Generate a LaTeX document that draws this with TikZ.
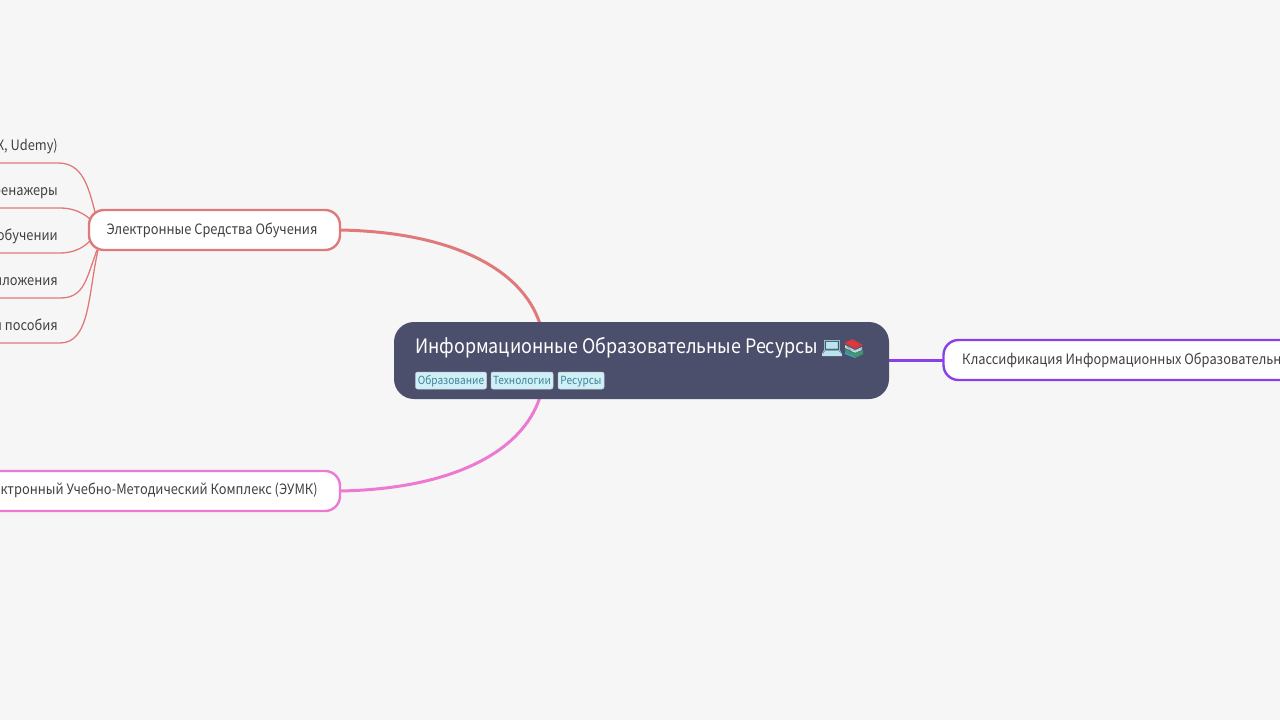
\documentclass[tikz,border=0pt]{standalone}
\usepackage{fontspec}
\setmainfont[FakeStretch=0.9]{Noto Sans CJK SC}
\newfontfamily\emojifont{Noto Emoji}
\definecolor{bgc}{HTML}{F6F6F6}
\definecolor{rootc}{HTML}{4C4F6B}
\definecolor{redc}{HTML}{E07A7A}
\definecolor{pinkc}{HTML}{EC79D2}
\definecolor{purpc}{HTML}{8B3FE8}
\definecolor{tagc}{HTML}{CFF0F7}
\definecolor{tagt}{HTML}{3F8295}
\definecolor{txtc}{HTML}{404040}
\definecolor{lapscr}{HTML}{37606E}
\definecolor{lapbase}{HTML}{BFE3EE}
\definecolor{bkred}{HTML}{E0383C}
\definecolor{bkteal}{HTML}{3E9FC0}
\definecolor{bkgreen}{HTML}{3FA070}
\tikzset{
  x=1pt,y=-1pt,
  topicbox/.style={draw,line width=2.4pt,fill=white,rounded corners=15pt},
  toptext/.style={text=txtc,inner sep=0pt,font=\fontsize{14.25}{17}\selectfont},
  leaftext/.style={text=txtc,inner sep=0pt,anchor=base east,font=\fontsize{14.25}{17}\selectfont},
  tagbox/.style={draw=white!70!rootc,fill=tagc,text=tagt,rounded corners=2pt,inner sep=0pt,line width=.5pt,anchor=base,text height=12.5pt,text depth=4.5pt,font=\fontsize{11.2}{14}\selectfont},
  redl/.style={draw=redc,line width=1.3pt},
  bigl/.style={line width=3pt},
}
\begin{document}
\begin{tikzpicture}
\useasboundingbox (0,0) rectangle (1280,720);
\fill[bgc] (0,0) rectangle (1280,720);
% coordinates
\coordinate (rootT) at (540,324);
\coordinate (rootB) at (540,397);
\coordinate (rootR) at (889,360);
% main connectors
\coordinate (ceR) at (340,230);
\coordinate (euR) at (340,491);
\coordinate (klL) at (943,360);
\draw[bigl,draw=redc] (ceR) .. controls (450,232) and (522,268) .. (rootT);
\draw[bigl,draw=pinkc] (euR) .. controls (450,489) and (522,453) .. (rootB);
\draw[bigl,draw=purpc] (rootR) -- (klL);
% leaf connectors
\coordinate (f1) at (0,163);\coordinate (f2) at (0,208);\coordinate (f3) at (0,253);\coordinate (f4) at (0,298);\coordinate (f5) at (0,343);
\coordinate (j1) at (95,212);\coordinate (j2) at (90,219);\coordinate (j3) at (90,241);\coordinate (j4) at (97,250);\coordinate (j5) at (98,250);
\draw[redl] (f1) -- (58,163) .. controls (82,163) and (88,185) .. (j1);
\draw[redl] (f2) -- (60,208) .. controls (72,208) and (82,212) .. (j2);
\draw[redl] (f3) -- (60,253) .. controls (72,253) and (82,249) .. (j3);
\draw[redl] (f4) -- (60,298) .. controls (84,298) and (86,280) .. (j4);
\draw[redl] (f5) -- (60,343) .. controls (90,343) and (88,295) .. (j5);
% nodes
\draw[topicbox,draw=redc] (89,210) rectangle (340,250);
\node[toptext,anchor=base] (ce) at (212,234) {Электронные Средства Обучения};
\draw[topicbox,draw=pinkc] (-30,471) rectangle (340,511);
\node[toptext,anchor=base east] (eu) at (318,494) {ектронный Учебно-Методический Комплекс (ЭУМК)};
\draw[topicbox,draw=purpc] (943.5,340) rectangle (1320,380);
\node[toptext,anchor=base west] (kl) at (962,364) {Классификация Информационных Образовательн};
\node[leaftext] (a) at (58,150) {X, Udemy)};
\node[leaftext] (b) at (58,195) {ренажеры};
\node[leaftext] (c) at (58,240) {обучении};
\node[leaftext] (d) at (58,285) {иложения};
\node[leaftext] (e) at (58,330) {и пособия};
% root
\fill[rootc,rounded corners=20pt] (394,322) rectangle (889,399);
\node[inner sep=0pt,anchor=base west,text=white,font=\fontsize{19.9}{24}\selectfont] (root) at (415,353) {Информационные Образовательные Ресурсы};
% emoji: colour under-layer, real glyphs on top
\fill[lapscr] (825,340) rectangle (839,351);
\fill[lapbase] (825,351) -- (839,351) -- (842,356) -- (822,356) -- cycle;
\fill[bkred] (844,343) -- (853,339) -- (863,345) -- (855,349) -- cycle;
\fill[lapbase] (845,345) -- (855,350) -- (862,347) -- (862,350) -- (855,353) -- (845,348) -- cycle;
\fill[bkgreen] (845,349) -- (855,353) -- (863,350) -- (863,354) -- (855,358) -- (845,353) -- cycle;
\fill[bkteal] (845,352) -- (855,356) -- (855,358) -- (845,354) -- cycle;
\node[inner sep=0pt,font=\emojifont\fontsize{18}{22}\selectfont,text=lapbase] (em1) at (832,348) {💻};
\node[inner sep=0pt,font=\emojifont\fontsize{18}{22}\selectfont,text=rootc,opacity=.35] (em2) at (854,348) {📚};
\node[tagbox,minimum width=71pt] (t1) at (451,384.5) {Образование};
\node[tagbox,minimum width=62pt] (t2) at (522,384.5) {Технологии};
\node[tagbox,minimum width=46pt] (t3) at (581,384.5) {Ресурсы};
\end{tikzpicture}
\end{document}
